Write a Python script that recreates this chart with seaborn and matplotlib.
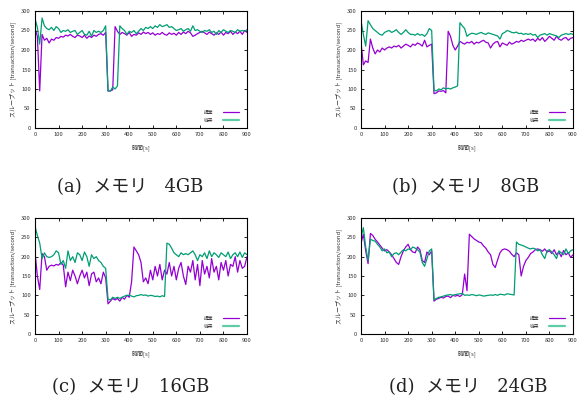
import numpy as np
import pandas as pd
import matplotlib
matplotlib.use("Agg")
import matplotlib.pyplot as plt
from matplotlib.lines import Line2D
import seaborn as sns

# sampling times [s]
time_s = list(range(0, 901, 10))

methods = ["提案", "従来"]
colors = {"提案": "#9400D3", "従来": "#009E73"}

# throughput [transaction/second], memory 4GB
prop_4gb = [255, 235, 95, 240, 225, 230, 218, 228, 225, 232, 230, 235, 233, 238, 236, 240, 235, 232, 238, 236,
            232, 238, 230, 236, 232, 238, 235, 240, 242, 238, 245, 95, 95, 98, 260, 248, 240, 245, 242, 238,
            245, 235, 240, 238, 244, 240, 246, 242, 245, 240, 244, 238, 242, 240, 245, 240, 238, 244, 240, 243,
            238, 245, 240, 246, 242, 248, 244, 235, 238, 242, 245, 248, 244, 240, 246, 242, 238, 244, 240, 246,
            238, 245, 242, 248, 240, 246, 242, 248, 240, 250, 245]
conv_4gb = [280, 258, 215, 282, 262, 255, 252, 258, 250, 260, 255, 245, 250, 248, 252, 245, 248, 250, 240, 245,
            250, 240, 238, 248, 235, 250, 245, 248, 245, 250, 262, 95, 95, 105, 100, 108, 262, 255, 250, 240,
            248, 245, 250, 242, 248, 255, 250, 258, 255, 260, 255, 262, 258, 265, 260, 262, 265, 258, 260, 255,
            250, 252, 255, 248, 252, 255, 248, 262, 250, 252, 248, 245, 250, 248, 252, 245, 248, 240, 250, 245,
            252, 248, 245, 250, 248, 245, 252, 248, 250, 248, 252]

# memory 8GB
prop_8gb = [220, 162, 172, 168, 228, 205, 190, 200, 195, 205, 200, 205, 208, 205, 210, 208, 212, 205, 210, 215,
            212, 208, 215, 212, 218, 215, 210, 225, 208, 212, 215, 88, 90, 95, 94, 96, 90, 248, 235, 212,
            200, 210, 222, 218, 215, 220, 218, 222, 215, 220, 218, 222, 225, 220, 218, 205, 215, 220, 222, 208,
            218, 215, 212, 220, 215, 218, 222, 220, 225, 222, 225, 228, 225, 228, 222, 230, 225, 232, 222, 228,
            235, 230, 225, 235, 228, 225, 230, 232, 225, 230, 232]
conv_8gb = [275, 240, 210, 275, 265, 255, 250, 245, 240, 238, 245, 248, 250, 245, 248, 252, 245, 240, 245, 252,
            245, 240, 240, 238, 242, 238, 240, 235, 242, 255, 250, 97, 95, 100, 98, 103, 100, 102, 100, 103,
            105, 108, 270, 262, 255, 235, 240, 243, 242, 240, 243, 245, 242, 240, 244, 242, 240, 238, 236, 228,
            242, 245, 250, 248, 245, 244, 246, 242, 243, 240, 242, 240, 242, 238, 240, 232, 238, 240, 242, 238,
            242, 240, 238, 236, 232, 238, 240, 242, 240, 242, 240]

# memory 16GB
prop_16gb = [212, 150, 115, 208, 200, 165, 175, 178, 176, 180, 178, 185, 178, 122, 160, 138, 165, 150, 130, 150,
             165, 145, 160, 125, 155, 160, 135, 145, 130, 160, 145, 78, 85, 92, 88, 92, 85, 95, 90, 100,
             95, 135, 225, 215, 205, 185, 135, 145, 130, 165, 140, 175, 150, 180, 140, 165, 155, 185, 150, 175,
             140, 170, 185, 150, 128, 175, 160, 190, 140, 180, 125, 190, 155, 175, 145, 195, 160, 175, 140, 185,
             165, 190, 150, 180, 175, 200, 160, 190, 170, 175, 200]
conv_16gb = [278, 255, 235, 195, 210, 200, 198, 200, 205, 215, 210, 180, 190, 170, 215, 190, 200, 185, 210, 205,
             190, 212, 200, 175, 205, 195, 200, 190, 185, 175, 170, 90, 88, 95, 92, 95, 92, 95, 98, 100,
             100, 98, 96, 99, 100, 102, 100, 101, 98, 100, 99, 97, 98, 96, 99, 97, 235, 232, 222, 210,
             205, 200, 210, 205, 208, 205, 210, 215, 205, 190, 205, 200, 210, 195, 215, 200, 210, 205, 198, 210,
             205, 200, 212, 195, 205, 210, 200, 212, 198, 210, 205]

# memory 24GB
prop_24gb = [235, 258, 215, 182, 260, 255, 245, 238, 230, 222, 215, 218, 212, 205, 195, 185, 180, 200, 215, 225,
             232, 218, 212, 210, 225, 218, 190, 185, 212, 205, 215, 85, 90, 92, 95, 93, 97, 98, 94, 100,
             98, 100, 97, 102, 155, 112, 258, 252, 246, 242, 238, 236, 228, 222, 212, 205, 180, 172, 192, 210,
             218, 220, 218, 214, 206, 200, 210, 205, 150, 175, 190, 198, 208, 212, 218, 220, 218, 214, 220, 212,
             215, 208, 218, 205, 212, 200, 216, 205, 210, 198, 205]
conv_24gb = [250, 275, 225, 190, 245, 242, 240, 232, 225, 215, 220, 210, 212, 200, 208, 210, 205, 212, 218, 215,
             220, 218, 225, 222, 218, 212, 185, 175, 195, 215, 220, 88, 92, 95, 96, 98, 100, 101, 102, 100,
             102, 103, 104, 105, 100, 101, 100, 102, 101, 99, 101, 100, 98, 99, 100, 101, 100, 102, 100, 103,
             102, 101, 104, 103, 102, 101, 238, 232, 230, 228, 225, 222, 220, 222, 220, 215, 218, 205, 195, 215,
             218, 212, 205, 195, 215, 210, 205, 220, 208, 215, 218]

captions = ["(a)  メモリ   4GB", "(b)  メモリ   8GB", "(c)  メモリ   16GB", "(d)  メモリ   24GB"]
panels = [(prop_4gb, conv_4gb), (prop_8gb, conv_8gb), (prop_16gb, conv_16gb), (prop_24gb, conv_24gb)]

xticks = list(range(0, 901, 100))
yticks = list(range(0, 301, 50))

sns.set_theme(style="ticks")
plt.rcParams["font.family"] = ["Noto Sans CJK JP", "DejaVu Sans"]

W, H = 577, 412
fig = plt.figure(figsize=(W / 100, H / 100), dpi=100)
fig.patch.set_facecolor("white")

# axes boxes in pixels: (left, top, right, bottom)
boxes = [(35, 11, 247, 128), (361, 11, 573, 128), (35, 218, 247, 334), (361, 218, 573, 334)]
cap_pos = [(130, 187), (466, 187), (131, 387), (468, 387)]

tick_fs = 4.2
label_fs = 4.3
leg_fs = 3.4
for (prop, conv), (l, t, r, b), cap, (cx, cy) in zip(panels, boxes, captions, cap_pos):
    ax_w, ax_h = r - l, b - t
    ax = fig.add_axes([l / W, 1 - b / H, ax_w / W, ax_h / H])
    df = pd.DataFrame({
        "time": time_s * 2,
        "tps": prop + conv,
        "method": [methods[0]] * len(prop) + [methods[1]] * len(conv),
    })
    sns.lineplot(data=df, x="time", y="tps", hue="method", hue_order=methods,
                 palette=colors, linewidth=0.9, legend=False, ax=ax)
    ax.set_xlim(0, 900)
    ax.set_ylim(0, 300)
    ax.set_xticks(xticks)
    ax.set_yticks(yticks)
    ax.tick_params(direction="in", length=2.5, width=0.6, top=True, right=True,
                   labelsize=tick_fs, colors="black", labelcolor="#333333", pad=3)
    for s in ax.spines.values():
        s.set_linewidth(0.8)
        s.set_color("black")
    ax.set_facecolor("white")
    ax.grid(False)
    ax.set_xlabel("時間[s]", fontsize=label_fs, color="#333333", labelpad=5)
    ax.set_ylabel("スループット [transaction/second]", fontsize=label_fs, color="#333333", labelpad=4)

    handles = [Line2D([], [], color=colors["提案"], linewidth=0.9),
               Line2D([], [], color="#5FCCA8", linewidth=1.6)]
    leg = ax.legend(handles, methods, loc="lower right", markerfirst=False, frameon=False,
                    fontsize=leg_fs, handlelength=3.4, handletextpad=2.0, labelspacing=0.55,
                    borderpad=0, borderaxespad=0,
                    bbox_to_anchor=(204 / 212, 5.5 / ax_h))
    for txt in leg.get_texts():
        txt.set_color("#333333")

    fig.text(cx / W, 1 - cy / H, cap, ha="center", va="center", fontsize=13,
             family=["DejaVu Serif", "Noto Sans CJK JP"], color="#222222")

fig.savefig("out.png", dpi=100, facecolor="white")
